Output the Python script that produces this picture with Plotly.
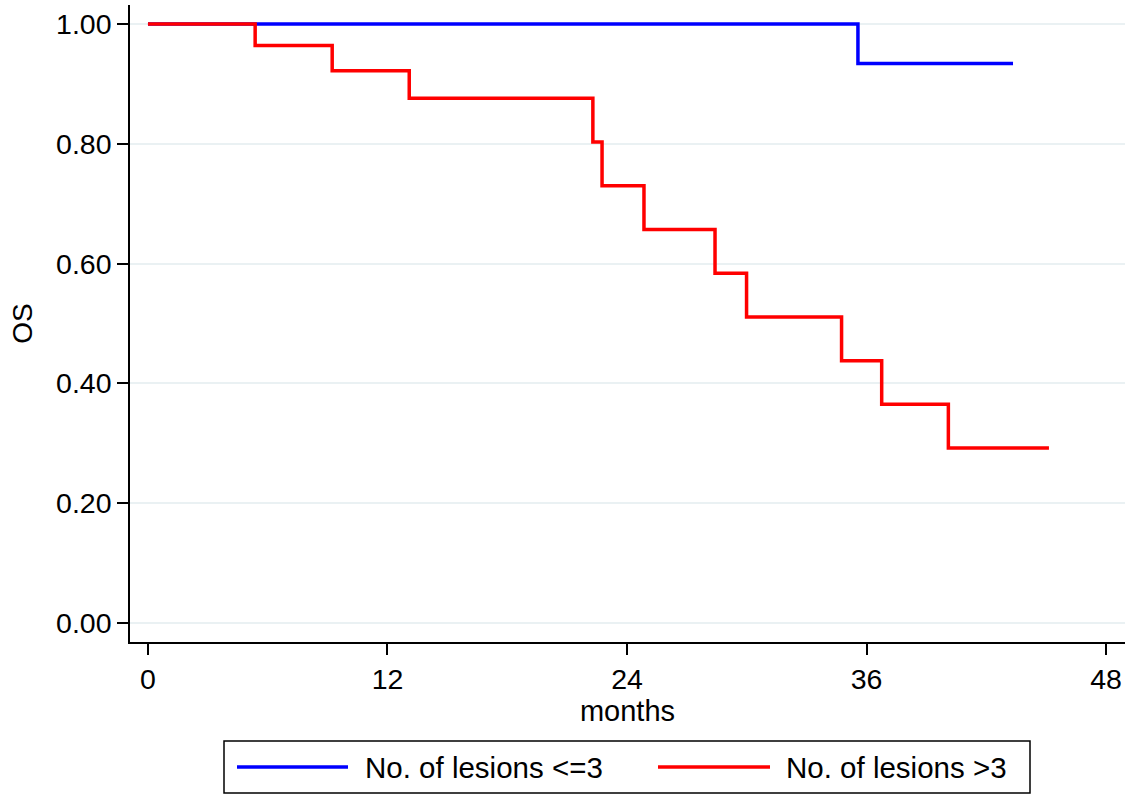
import plotly.graph_objects as go

# Kaplan-Meier steps
blue_name = "No. of lesions <=3"
blue_time = [0, 35.57, 43.34]
blue_surv = [1.0, 0.934, 0.934]

red_name = "No. of lesions >3"
red_time = [0, 5.37, 9.23, 13.09, 22.29, 22.75, 24.85, 28.41, 29.99, 34.75, 36.76, 40.10, 45.14]
red_surv = [1.0, 0.964, 0.922, 0.876, 0.803, 0.730, 0.657, 0.584, 0.511, 0.438, 0.365, 0.292, 0.292]

x_ticks = [0, 12, 24, 36, 48]
y_ticks = [0.0, 0.2, 0.4, 0.6, 0.8, 1.0]

FONT = "Liberation Sans, Arial, sans-serif"

W, H = 1131, 794
ML, MR, MT, MB = 130, 6, 5, 152
PL, PR, PT, PB = ML, W - MR, MT, H - MB

fig = go.Figure()
fig.add_trace(go.Scatter(x=blue_time, y=blue_surv, mode="lines", line_shape="hv",
                         line=dict(color="#0000ff", width=3.5), name=blue_name, showlegend=False))
fig.add_trace(go.Scatter(x=red_time, y=red_surv, mode="lines", line_shape="hv",
                         line=dict(color="#ff0000", width=3.5), name=red_name, showlegend=False))

# manual legend (paper coords are relative to the plot area)
def px(x): return (x - PL) / (PR - PL)
def py(y): return (PB - y) / (PB - PT)
lx0, lx1, ly0, ly1 = 224, 1030, 741, 793
shapes = [
    dict(type="rect", xref="paper", yref="paper", x0=px(lx0), x1=px(lx1), y0=py(ly1), y1=py(ly0),
         line=dict(color="black", width=1.5), fillcolor="white"),
    dict(type="line", xref="paper", yref="paper", x0=px(237), x1=px(348), y0=py(767), y1=py(767),
         line=dict(color="#0000ff", width=3.5)),
    dict(type="line", xref="paper", yref="paper", x0=px(658), x1=px(770), y0=py(767), y1=py(767),
         line=dict(color="#ff0000", width=3.5)),
]
annotations = [
    dict(xref="paper", yref="paper", x=px(363), y=py(767), text=blue_name, showarrow=False,
         xanchor="left", yanchor="middle", font=dict(family=FONT, size=29.5, color="black")),
    dict(xref="paper", yref="paper", x=px(784), y=py(767), text=red_name, showarrow=False,
         xanchor="left", yanchor="middle", font=dict(family=FONT, size=29.5, color="black")),
]

fig.update_layout(
    width=W, height=H,
    margin=dict(l=ML, r=MR, t=MT, b=MB),
    paper_bgcolor="white", plot_bgcolor="white",
    font=dict(family=FONT, size=28, color="black"),
    shapes=shapes, annotations=annotations,
    showlegend=False,
)
fig.update_xaxes(range=[-0.9, 48.95], tickvals=x_ticks, ticktext=[str(v) for v in x_ticks],
                 showline=True, linecolor="black", linewidth=1.5, ticks="outside", ticklen=11,
                 tickcolor="black", tickwidth=1.5, showgrid=False, zeroline=False,
                 title=dict(text="months", standoff=0, font=dict(size=29)),
                 tickfont=dict(size=28.5))
fig.update_yaxes(range=[-0.0317, 1.0317], tickvals=y_ticks, tickformat=".2f",
                 showline=True, linecolor="black", linewidth=1.5, ticks="outside", ticklen=11,
                 tickcolor="black", tickwidth=1.5, showgrid=True, gridcolor="#eaf1f3", gridwidth=2,
                 zeroline=False, title=dict(text="OS", standoff=15, font=dict(size=28)),
                 tickfont=dict(size=28.5))

fig.write_html("out.html")
